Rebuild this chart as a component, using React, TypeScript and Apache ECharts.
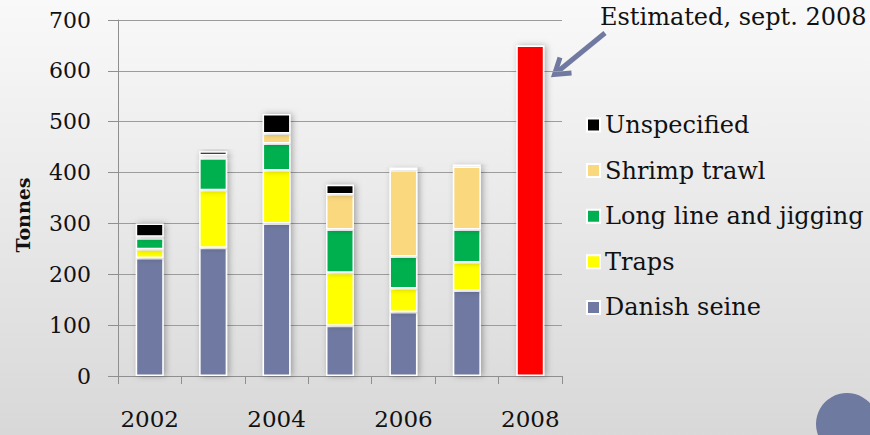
import React, { useEffect, useRef } from "react";
import * as echarts from "echarts";

const years = ["2002", "2003", "2004", "2005", "2006", "2007", "2008"];
const danishSeine = [232, 252, 300, 99, 126, 168, null];
const traps = [17, 113, 104, 104, 46, 55, null];
const longLine = [22, 63, 53, 85, 63, 65, null];
const shrimpTrawl = [3, 6, 20, 69, 170, 124, null];
const unspecified = [26, 8, 38, 19, 5, 4, null];
const estimated = [null, null, null, null, null, null, 650];
const legendOrder = ["Unspecified", "Shrimp trawl", "Long line and jigging", "Traps", "Danish seine"];

const FONT = "'DejaVu Serif', serif";

export default function App() {
  const ref = useRef<HTMLDivElement>(null);

  useEffect(() => {
    if (!ref.current) return;
    const chart = echarts.init(ref.current, null, { renderer: "svg" });

    const barStyle = (color: string) => ({
      color,
      borderColor: "#ffffff",
      borderWidth: 1.5,
      shadowColor: "rgba(0,0,0,0.3)",
      shadowBlur: 6,
      shadowOffsetX: 2,
    });

    const mk = (name: string, data: (number | null)[], color: string) => ({
      name,
      type: "bar",
      stack: "total",
      barWidth: 28,
      data,
      itemStyle: barStyle(color),
    });

    chart.setOption({
      animation: false,
      backgroundColor: {
        type: "linear",
        x: 0,
        y: 0,
        x2: 0,
        y2: 1,
        colorStops: [
          { offset: 0, color: "#f9f9f9" },
          { offset: 1, color: "#d8d8d8" },
        ],
      },
      textStyle: { fontFamily: FONT },
      grid: { left: 118, right: 308, top: 20, bottom: 59 },
      legend: {
        orient: "vertical",
        left: 581,
        top: 108,
        data: legendOrder,
        itemWidth: 13,
        itemHeight: 13,
        itemGap: 21.6,
        icon: "rect",
        textStyle: { fontFamily: FONT, fontSize: 24, color: "#111", padding: [0, 0, 0, 0] },
      },
      xAxis: {
        type: "category",
        data: years,
        axisLine: { lineStyle: { color: "#8f8f8f", width: 1 } },
        axisTick: { show: true, interval: 0, length: 8, lineStyle: { color: "#8f8f8f" } },
        axisLabel: {
          interval: 1,
          margin: 31,
          fontFamily: FONT,
          fontSize: 23,
          color: "#111",
        },
      },
      yAxis: {
        type: "value",
        min: 0,
        max: 700,
        interval: 100,
        axisLine: { show: true, lineStyle: { color: "#8f8f8f", width: 1 } },
        axisTick: { show: true, length: 10, lineStyle: { color: "#8f8f8f" } },
        splitLine: { lineStyle: { color: "#9c9c9c", width: 1 } },
        axisLabel: { margin: 27, fontFamily: FONT, fontSize: 22, color: "#111" },
      },
      series: [
        mk("Danish seine", danishSeine, "#6f79a1"),
        mk("Traps", traps, "#ffff00"),
        mk("Long line and jigging", longLine, "#00b050"),
        mk("Shrimp trawl", shrimpTrawl, "#fad87e"),
        mk("Unspecified", unspecified, "#000000"),
        mk("Estimated", estimated, "#ff0000"),
      ],
      graphic: [
        {
          type: "text",
          x: 23,
          y: 215,
          rotation: Math.PI / 2,
          style: {
            text: "Tonnes",
            fontFamily: FONT,
            fontSize: 19,
            fontWeight: "bold",
            fill: "#111",
            align: "center",
            verticalAlign: "middle",
          },
        },
        {
          type: "text",
          left: 600,
          top: 5,
          style: { text: "Estimated, sept. 2008", fontFamily: FONT, fontSize: 24, fill: "#111" },
        },
        {
          type: "line",
          shape: { x1: 605, y1: 33, x2: 556, y2: 73 },
          style: { stroke: "#7079a0", lineWidth: 5 },
        },
        {
          type: "polyline",
          shape: { points: [[560, 57.5], [554.5, 74.5], [571.5, 73]] },
          style: { stroke: "#7079a0", lineWidth: 5, fill: null, lineJoin: "miter" },
        },
        {
          type: "circle",
          shape: { cx: 847, cy: 424, r: 31 },
          style: { fill: "#6f7aa0" },
        },
      ],
    });

    return () => chart.dispose();
  }, []);

  return (
    <div
      ref={ref}
      style={{ position: "absolute", left: 0, top: 0, width: 870, height: 435 }}
    />
  );
}
